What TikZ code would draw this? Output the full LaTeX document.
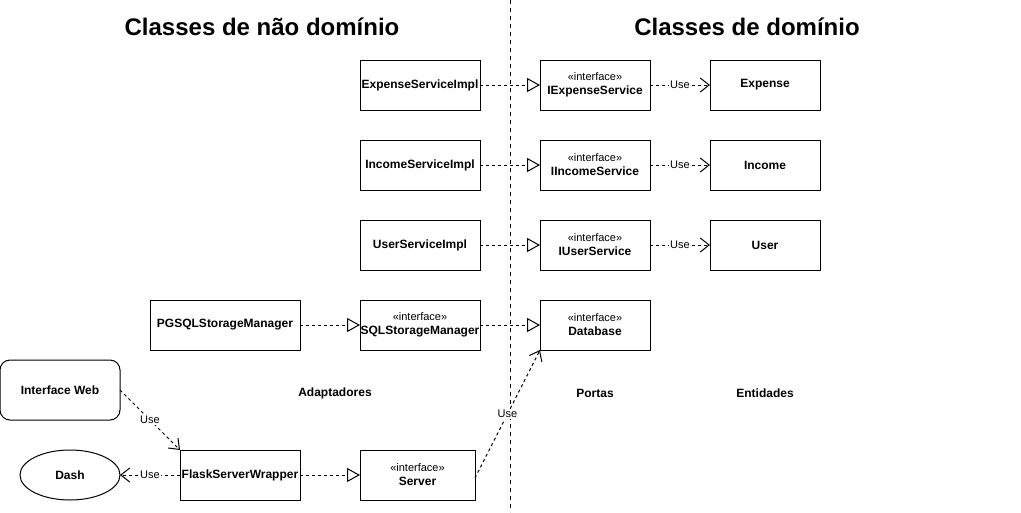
\documentclass[tikz,border=0pt]{standalone}
\usepackage{fontspec}
\setmainfont{Liberation Sans}
\usetikzlibrary{arrows.meta,positioning,shapes.geometric}
\newcommand{\stereo}[1]{{\normalfont\fontsize{11}{13}\selectfont «interface»}\\#1}
\tikzset{
  classbox/.style={
    draw,line width=1pt,fill=white,inner sep=0pt,outer sep=0pt,
    minimum height=50pt,align=center,
    font=\bfseries\fontsize{12}{14}\selectfont
  },
  realize/.style={line width=1pt,dash pattern=on 3pt off 3pt,-{Triangle[open,length=13pt,width=14pt]}},
  uses/.style={line width=1pt,dash pattern=on 3pt off 3pt,-{Straight Barb[length=9pt,width=14pt]}},
  uselabel/.style={fill=white,inner sep=1pt,font=\fontsize{11}{13}\selectfont},
  title/.style={font=\bfseries\fontsize{24}{28}\selectfont},
  layer/.style={font=\bfseries\fontsize{12}{14}\selectfont}
}

\begin{document}
\begin{tikzpicture}[x=1pt,y=-1pt]
        \useasboundingbox[fill=white] (0,0) rectangle (1021,512);
        \draw[line width=1pt,dash pattern=on 4pt off 4pt] (510,0) -- (510,512);
        \node[title] (nondom) at (262,27) {Classes de não domínio};
        \node[title] (dom) at (747,27) {Classes de domínio};

        \node[classbox,minimum width=120pt] (expimpl) at (420,85) {ExpenseServiceImpl};
        \node[classbox,minimum width=110pt,right=60pt of expimpl] (iexpense) {\stereo{IExpenseService}};
        \node[classbox,minimum width=110pt,right=60pt of iexpense] (expense) {Expense};

        \node[classbox,minimum width=120pt,below=30pt of expimpl] (incimpl) {IncomeServiceImpl};
        \node[classbox,minimum width=110pt,right=60pt of incimpl] (iincome) {\stereo{IIncomeService}};
        \node[classbox,minimum width=110pt,right=60pt of iincome] (income) {Income};

        \node[classbox,minimum width=120pt,below=30pt of incimpl] (usrimpl) {UserServiceImpl};
        \node[classbox,minimum width=110pt,right=60pt of usrimpl] (iuser) {\stereo{IUserService}};
        \node[classbox,minimum width=110pt,right=60pt of iuser] (user) {User};

        \node[classbox,minimum width=120pt,below=30pt of usrimpl] (sqlsm) {\stereo{SQLStorageManager}};
        \node[classbox,minimum width=150pt,left=60pt of sqlsm] (pgsql) {PGSQLStorageManager};
        \node[classbox,minimum width=110pt,right=60pt of sqlsm] (database) {\stereo{Database}};

        \node[classbox,minimum width=115pt] (server) at (417.5,475) {\stereo{Server}};
        \node[classbox,minimum width=120pt,left=60pt of server] (flask) {FlaskServerWrapper};
        \node[classbox,ellipse,minimum width=100pt,left=60pt of flask] (dash) {Dash};
        \node[classbox,rounded corners=10pt,minimum width=120pt,minimum height=60pt] (web) at (60,390) {Interface Web};

        \node[layer] (adapt) at (335,393) {Adaptadores};
        \node[layer] (portas) at (595,393) {Portas};
        \node[layer] (entid) at (765,393) {Entidades};

        \draw[realize] (expimpl) -- (iexpense);
        \draw[realize] (incimpl) -- (iincome);
        \draw[realize] (usrimpl) -- (iuser);
        \draw[realize] (pgsql) -- (sqlsm);
        \draw[realize] (sqlsm) -- (database);
        \draw[realize] (flask) -- (server);
        \draw[uses] (iexpense) -- node[uselabel] {Use} (expense);
        \draw[uses] (iincome) -- node[uselabel] {Use} (income);
        \draw[uses] (iuser) -- node[uselabel] {Use} (user);
        \draw[uses] (web.east) -- node[uselabel] {Use} (flask.north west);
        \draw[uses] (flask) -- node[uselabel] {Use} (dash);
        \draw[uses] ([yshift=-3pt]server.east) -- node[uselabel] {Use} (database.south west);
      \end{tikzpicture}
\end{document}
